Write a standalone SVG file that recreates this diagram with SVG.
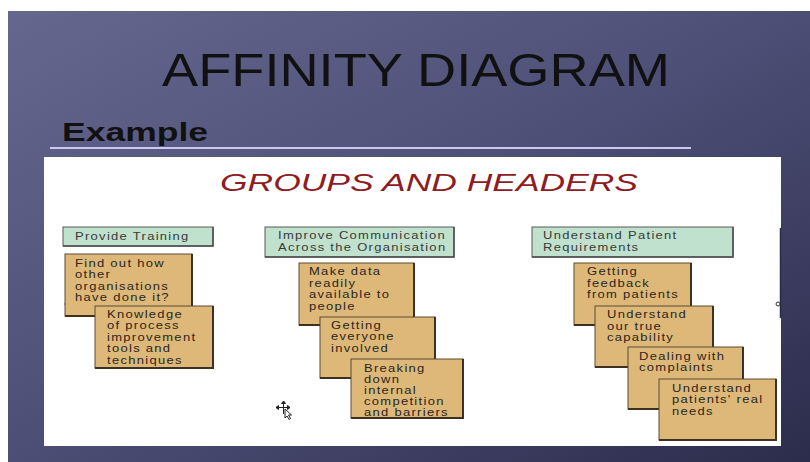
<svg xmlns="http://www.w3.org/2000/svg" width="810" height="462" viewBox="0 0 810 462">
  <defs>
    <linearGradient id="slideBg" x1="0" y1="0" x2="1" y2="1">
      <stop offset="0" stop-color="#65678f"/>
      <stop offset="0.45" stop-color="#4f5179"/>
      <stop offset="1" stop-color="#2c2d4c"/>
    </linearGradient>
    <style>
      .hdr rect.box { fill: #c0e1cd; stroke: #5a5a5a; stroke-width: 1; }
      .card rect.box { fill: #ddb878; stroke: #5a4a2e; stroke-width: 1; }
      .shade { fill: none; stroke: #3d3220; stroke-width: 2; }
      .hdr .shade { stroke: #4a4a4a; stroke-width: 1.5; }
      .label { font-family: "Liberation Sans", Arial, sans-serif; font-size: 10px; letter-spacing: 1px; fill: #2b2620; }
      .hdr .label { fill: #3a3a3a; }
    </style>
  </defs>

  <!-- slide background -->
  <rect x="0" y="0" width="810" height="462" fill="#ffffff"/>
  <rect x="8" y="11" width="802" height="451" fill="url(#slideBg)"/>

  <!-- slide title -->
  <text x="162" y="86" font-family="Liberation Sans, Arial, sans-serif" font-size="46" fill="#111111" textLength="508" lengthAdjust="spacingAndGlyphs">AFFINITY DIAGRAM</text>
  <text x="62" y="141" font-family="Liberation Sans, Arial, sans-serif" font-size="25" font-weight="bold" fill="#111111" textLength="146" lengthAdjust="spacingAndGlyphs">Example</text>
  <line x1="50" y1="148" x2="691" y2="148" stroke="#c9c8f2" stroke-width="2"/>

  <!-- white panel -->
  <rect x="44" y="157" width="737" height="289" fill="#ffffff"/>
  <line x1="780.5" y1="228" x2="780.5" y2="318" stroke="#2a2b48" stroke-width="1.5"/>
  <circle cx="67" cy="304" r="2" fill="#ffffff" stroke="#333333" stroke-width="1"/>
  <circle cx="778" cy="304" r="2" fill="#ffffff" stroke="#333333" stroke-width="1"/>

  <text x="220" y="191" font-family="Liberation Sans, Arial, sans-serif" font-size="24" font-style="italic" fill="#8e1c22" textLength="418" lengthAdjust="spacingAndGlyphs">GROUPS AND HEADERS</text>

  <g id="connectors"/>

  <!-- group 1 -->
  <g id="hdr-training" class="hdr">
    <rect class="box" x="63" y="227" width="150" height="19"/>
    <polyline class="shade" points="213,227 213,246 63,246"/>
    <g transform="translate(75 0) scale(1.3 1)">
      <text class="label" x="0" y="240">Provide Training</text>
    </g>
  </g>
  <g id="card-find-out" class="card">
    <rect class="box" x="65" y="254" width="127" height="62"/>
    <polyline class="shade" points="192,254 192,316 65,316"/>
    <g transform="translate(75 0) scale(1.3 1)">
      <text class="label" x="0" y="267">Find out how</text>
      <text class="label" x="0" y="278.5">other</text>
      <text class="label" x="0" y="290">organisations</text>
      <text class="label" x="0" y="301.5">have done it?</text>
    </g>
  </g>
  <g id="card-knowledge" class="card">
    <rect class="box" x="95" y="306" width="118" height="62"/>
    <polyline class="shade" points="213,306 213,368 95,368"/>
    <g transform="translate(107 0) scale(1.3 1)">
      <text class="label" x="0" y="318">Knowledge</text>
      <text class="label" x="0" y="329.5">of process</text>
      <text class="label" x="0" y="341">improvement</text>
      <text class="label" x="0" y="352.5">tools and</text>
      <text class="label" x="0" y="364">techniques</text>
    </g>
  </g>

  <!-- group 2 -->
  <g id="hdr-communication" class="hdr">
    <rect class="box" x="265" y="227" width="189" height="30"/>
    <polyline class="shade" points="454,227 454,257 265,257"/>
    <g transform="translate(278 0) scale(1.3 1)">
      <text class="label" x="0" y="239.5">Improve Communication</text>
      <text class="label" x="0" y="251">Across the Organisation</text>
    </g>
  </g>
  <g id="card-make-data" class="card">
    <rect class="box" x="299" y="263" width="115" height="62"/>
    <polyline class="shade" points="414,263 414,325 299,325"/>
    <g transform="translate(309 0) scale(1.3 1)">
      <text class="label" x="0" y="275.5">Make data</text>
      <text class="label" x="0" y="287">readily</text>
      <text class="label" x="0" y="298.5">available to</text>
      <text class="label" x="0" y="310">people</text>
    </g>
  </g>
  <g id="card-everyone" class="card">
    <rect class="box" x="320" y="317" width="115" height="61"/>
    <polyline class="shade" points="435,317 435,378 320,378"/>
    <g transform="translate(331 0) scale(1.3 1)">
      <text class="label" x="0" y="329">Getting</text>
      <text class="label" x="0" y="340.5">everyone</text>
      <text class="label" x="0" y="352">involved</text>
    </g>
  </g>
  <g id="card-breaking" class="card">
    <rect class="box" x="351" y="359" width="112" height="59"/>
    <polyline class="shade" points="463,359 463,418 351,418"/>
    <g transform="translate(364 0) scale(1.3 1)">
      <text class="label" x="0" y="372.5">Breaking</text>
      <text class="label" x="0" y="383.5">down</text>
      <text class="label" x="0" y="394.5">internal</text>
      <text class="label" x="0" y="405.5">competition</text>
      <text class="label" x="0" y="416.5">and barriers</text>
    </g>
  </g>

  <!-- group 3 -->
  <g id="hdr-patient" class="hdr">
    <rect class="box" x="532" y="227" width="201" height="30"/>
    <polyline class="shade" points="733,227 733,257 532,257"/>
    <g transform="translate(543 0) scale(1.3 1)">
      <text class="label" x="0" y="239.5">Understand Patient</text>
      <text class="label" x="0" y="251">Requirements</text>
    </g>
  </g>
  <g id="card-feedback" class="card">
    <rect class="box" x="574" y="263" width="117" height="62"/>
    <polyline class="shade" points="691,263 691,325 574,325"/>
    <g transform="translate(587 0) scale(1.3 1)">
      <text class="label" x="0" y="275.5">Getting</text>
      <text class="label" x="0" y="287">feedback</text>
      <text class="label" x="0" y="298.5">from patients</text>
    </g>
  </g>
  <g id="card-capability" class="card">
    <rect class="box" x="595" y="306" width="118" height="61"/>
    <polyline class="shade" points="713,306 713,367 595,367"/>
    <g transform="translate(607 0) scale(1.3 1)">
      <text class="label" x="0" y="318.5">Understand</text>
      <text class="label" x="0" y="330">our true</text>
      <text class="label" x="0" y="341.5">capability</text>
    </g>
  </g>
  <g id="card-complaints" class="card">
    <rect class="box" x="628" y="347" width="115" height="62"/>
    <polyline class="shade" points="743,347 743,409 628,409"/>
    <g transform="translate(639 0) scale(1.3 1)">
      <text class="label" x="0" y="360">Dealing with</text>
      <text class="label" x="0" y="371.5">complaints</text>
    </g>
  </g>
  <g id="card-needs" class="card">
    <rect class="box" x="659" y="379" width="117" height="61"/>
    <polyline class="shade" points="776,379 776,440 659,440"/>
    <g transform="translate(672 0) scale(1.3 1)">
      <text class="label" x="0" y="392">Understand</text>
      <text class="label" x="0" y="403.5">patients' real</text>
      <text class="label" x="0" y="415">needs</text>
    </g>
  </g>

  <!-- move cursor -->
  <g id="cursor" stroke="#222222" stroke-width="1" fill="none">
    <line x1="276" y1="407.5" x2="290" y2="407.5"/>
    <line x1="283.5" y1="401" x2="283.5" y2="414"/>
    <path d="M276,407.5 l2.5,-2 v4 z M290,407.5 l-2.5,-2 v4 z M283.5,401 l-2,2.5 h4 z" fill="#222222"/>
    <path d="M285,409 v9 l2,-2 l2,3.5 l1.5,-1 l-2,-3.5 h3 z" fill="#ffffff"/>
  </g>
</svg>
